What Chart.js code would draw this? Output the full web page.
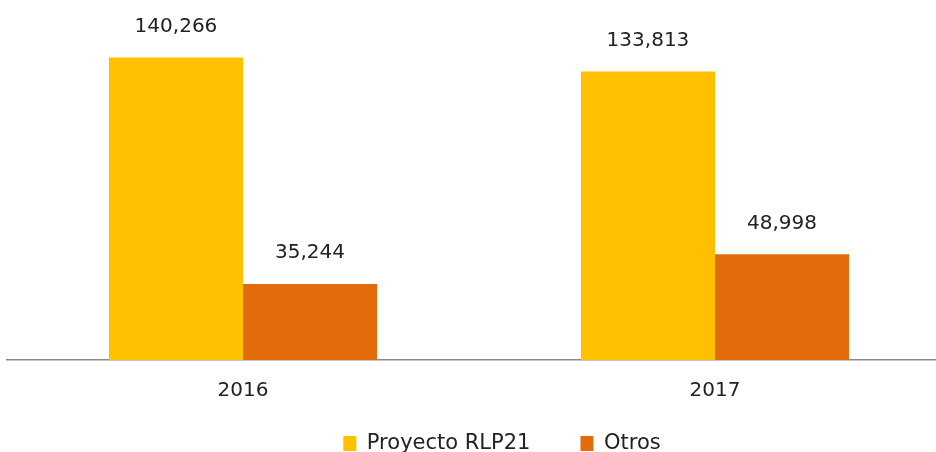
<!DOCTYPE html>
<html>
<head>
<meta charset="utf-8">
<script src="https://cdn.jsdelivr.net/npm/chart.js@4"></script>
<style>
  html, body { margin: 0; padding: 0; background: #fff; overflow: hidden; }
  #wrap { width: 1004px; height: 464px; }
</style>
</head>
<body>
<div id="wrap"><canvas id="chart" width="1004" height="464"></canvas></div>
<script>
"use strict";

const years = ["2016", "2017"]
const proyecto = [140266, 133813]
const otros = [35244, 48998]
const series_names = ["Proyecto RLP21", "Otros"]

const fmt = n => n.toLocaleString("en-US")

// draws the numbers above every bar
const value_labels = {
    id: "value_labels",
    afterDatasetsDraw(chart) {
        const ctx = chart.ctx
        ctx.save()
        ctx.font = "20px 'DejaVu Sans'"
        ctx.fillStyle = "#222"
        ctx.textAlign = "center"
        ctx.textBaseline = "bottom"
        chart.data.datasets.forEach((ds, i) => {
            chart.getDatasetMeta(i).data.forEach((bar, j) => {
                ctx.fillText(fmt(ds.data[j]), bar.x, bar.y - 21)
            })
        })
        ctx.restore()
    }
}

const side_axis = w => ({
    display: true,
    min: 0,
    max: 160000,
    ticks: {display: false},
    grid: {display: false},
    border: {display: false},
    afterFit: s => { s.width = w }
})

const config = {
    type: "bar",
    data: {
        labels: years,
        datasets: [
            {
                label: series_names[0],
                data: proyecto,
                backgroundColor: "#FFC000",
                categoryPercentage: 0.568,
                barPercentage: 1.0
            },
            {
                label: series_names[1],
                data: otros,
                backgroundColor: "#E36C0A",
                categoryPercentage: 0.568,
                barPercentage: 1.0
            }
        ]
    },
    options: {
        responsive: false,
        animation: false,
        layout: {padding: {top: 15, bottom: 0}},
        scales: {
            x: {
                grid: {display: false, drawTicks: false},
                border: {display: true, color: "#8a8a8a", width: 1.5},
                // mirror keeps the labels from being clipped to the (short) axis box
                ticks: {color: "#222", font: {family: "DejaVu Sans", size: 20}, padding: -43, mirror: true},
                afterFit: s => { s.height = 23 }
            },
            y: Object.assign(side_axis(7), {position: "left"}),
            y2: Object.assign(side_axis(53), {position: "right"})
        },
        plugins: {
            legend: {
                position: "bottom",
                labels: {
                    color: "#222",
                    font: {family: "DejaVu Sans", size: 21},
                    boxWidth: 13,
                    boxHeight: 15,
                    padding: 50
                }
            },
            tooltip: {enabled: false}
        }
    },
    plugins: [value_labels]
}

new Chart(document.getElementById("chart"), config)
</script>
</body>
</html>
